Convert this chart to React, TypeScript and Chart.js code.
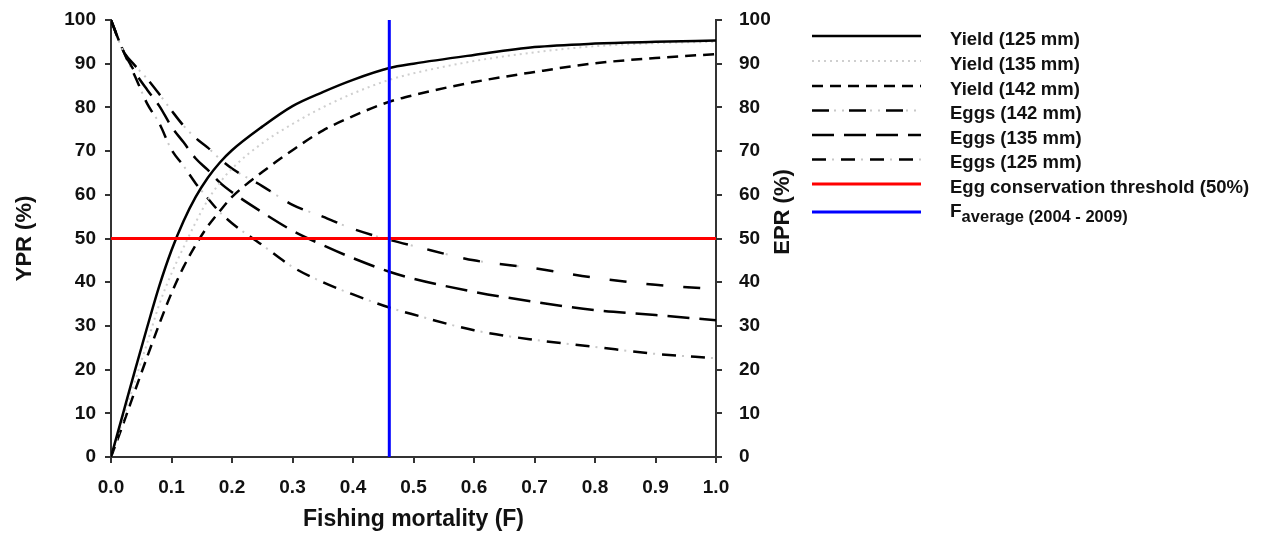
import React, { useEffect, useRef } from "react";
import { Chart, registerables } from "chart.js";

Chart.register(...registerables);

// ---- data ----
const fishingMortality = [0, 0.02, 0.04, 0.06, 0.08, 0.1, 0.12, 0.14, 0.16, 0.18, 0.2, 0.25, 0.3, 0.35, 0.4, 0.46, 0.5, 0.6, 0.7, 0.8, 0.9, 1.0];
const yield125 = [0, 10, 20, 29.8, 39.2, 47.3, 54, 59.5, 63.9, 67.4, 70.2, 75.6, 80.3, 83.5, 86.3, 89, 90, 92, 93.8, 94.6, 95, 95.3];
const yield135 = [0, 8.7, 17.5, 26.2, 35, 42, 48, 53.7, 58.8, 62.8, 66, 71.8, 76.2, 80, 83.2, 86.3, 87.8, 90.6, 92.6, 94, 94.7, 95];
const yield142 = [0, 7.5, 15.3, 23, 30.5, 37.5, 43.5, 48.5, 52.8, 56.3, 59.5, 65.2, 70.2, 74.7, 78, 81.3, 82.8, 85.8, 88.1, 90.1, 91.3, 92.2];
const eggs142 = [100, 93, 89.5, 86.5, 83, 79.3, 75.8, 73, 70.8, 68.2, 66, 62, 57.7, 55, 52.2, 49.7, 48.3, 45, 43.2, 41, 39.4, 38.4];
const eggs135 = [100, 93, 88, 84, 80.3, 75.6, 72, 68.3, 65.7, 62.8, 60.6, 56, 51.8, 48.5, 45.5, 42.4, 40.8, 37.8, 35.5, 33.6, 32.5, 31.3];
const eggs125 = [100, 93, 87, 80.8, 76.3, 70.3, 66.6, 62.6, 59.2, 56, 53.5, 48.5, 43.5, 40, 37.2, 34.2, 32.6, 29, 26.8, 25.2, 23.6, 22.6];
const thresholdF = [0, 1];
const thresholdEPR = [50, 50];
const fAverageF = [0.46, 0.46];
const fAverageRange = [0, 100];

const xAxisTitle = "Fishing mortality (F)";
const yAxisTitle = "YPR (%)";
const y2AxisTitle = "EPR (%)";
const legendLabels = [
  "Yield (125 mm)",
  "Yield (135 mm)",
  "Yield (142 mm)",
  "Eggs (142 mm)",
  "Eggs (135 mm)",
  "Eggs (125 mm)",
  "Egg conservation threshold (50%)",
];
const fAvgMain = "F";
const fAvgSub = "average (2004 - 2009)";

const FONT = "'Liberation Sans', Arial, Helvetica, sans-serif";
const TEXT = "#111";
const AXIS = "#333";

type Layer = { color: string; width: number; dash: number[] };

const pts = (xs: number[], ys: number[]) => xs.map((x, i) => ({ x, y: ys[i] }));

const styles: Layer[][] = [
  [{ color: "#000", width: 2.5, dash: [] }],
  [{ color: "#cfcfcf", width: 2, dash: [2, 4] }],
  [{ color: "#000", width: 2.5, dash: [11, 7] }],
  [
    { color: "#000", width: 2.5, dash: [17, 20] },
    { color: "#c8c8c8", width: 2, dash: [0, 22, 2, 6, 2, 4] },
  ],
  [{ color: "#000", width: 2.5, dash: [22, 10] }],
  [
    { color: "#000", width: 2.5, dash: [14, 15] },
    { color: "#c8c8c8", width: 2, dash: [0, 20, 2, 7] },
  ],
  [{ color: "#ff0000", width: 3, dash: [] }],
  [{ color: "#0000ff", width: 3, dash: [] }],
];

const seriesData = [
  { data: pts(fishingMortality, yield125), axis: "y" },
  { data: pts(fishingMortality, yield135), axis: "y" },
  { data: pts(fishingMortality, yield142), axis: "y" },
  { data: pts(fishingMortality, eggs142), axis: "y2" },
  { data: pts(fishingMortality, eggs135), axis: "y2" },
  { data: pts(fishingMortality, eggs125), axis: "y2" },
  { data: pts(thresholdF, thresholdEPR), axis: "y2" },
  { data: pts(fAverageF, fAverageRange), axis: "y" },
];

const legendPlugin = {
  id: "customLegend",
  afterDraw(chart: any) {
    const ctx = chart.ctx as CanvasRenderingContext2D;
    ctx.save();
    // right axis title, reading bottom-to-top
    ctx.fillStyle = TEXT;
    ctx.font = `bold 22px ${FONT}`;
    ctx.textAlign = "center";
    ctx.textBaseline = "alphabetic";
    ctx.save();
    ctx.translate(789, 212);
    ctx.rotate(-Math.PI / 2);
    ctx.fillText(y2AxisTitle, 0, 0);
    ctx.restore();

    const x0 = 812;
    const x1 = 921;
    const tx = 950;
    const rowY = [36, 61, 86, 110.5, 135, 159.5, 184, 212];
    styles.forEach((layers, i) => {
      const y = rowY[i];
      [...layers].reverse().forEach((l) => {
        ctx.beginPath();
        ctx.setLineDash(l.dash);
        ctx.lineWidth = l.width;
        ctx.strokeStyle = l.color;
        ctx.moveTo(x0, y);
        ctx.lineTo(x1, y);
        ctx.stroke();
      });
      ctx.setLineDash([]);
      ctx.textAlign = "left";
      ctx.textBaseline = "alphabetic";
      ctx.fillStyle = TEXT;
      if (i < legendLabels.length) {
        ctx.font = `bold 18.5px ${FONT}`;
        ctx.fillText(legendLabels[i], tx, y + 8.5);
      } else {
        ctx.font = `bold 19px ${FONT}`;
        ctx.fillText(fAvgMain, tx, 217);
        const w = ctx.measureText(fAvgMain).width;
        ctx.font = `bold 16.5px ${FONT}`;
        ctx.fillText(fAvgSub, tx + w, 222);
      }
    });
    ctx.restore();
  },
};

export default function App() {
  const ref = useRef<HTMLCanvasElement | null>(null);
  useEffect(() => {
    if (!ref.current) return;
    const datasets: any[] = [];
    // first dataset is drawn on top, so push in reverse visual order
    const order = [7, 6, 0, 1, 2, 3, 4, 5];
    order.forEach((si) => {
      styles[si].forEach((l, li) => {
        datasets.push({
          label: si < legendLabels.length ? legendLabels[si] + (li ? " " : "") : fAvgMain + fAvgSub,
          data: seriesData[si].data,
          yAxisID: seriesData[si].axis,
          borderColor: l.color,
          borderWidth: l.width,
          borderDash: l.dash,
          pointRadius: 0,
          fill: false,
          cubicInterpolationMode: "monotone",
          borderCapStyle: "butt",
        });
      });
    });
    const tickFont = { family: FONT, size: 19, weight: "bold" as const };
    const titleFont = { family: FONT, size: 23, weight: "bold" as const };
    const grid = { drawOnChartArea: false, drawTicks: true, tickLength: 6, color: AXIS, lineWidth: 2 };
    const border = { display: true, color: AXIS, width: 2 };
    const noPad = (s: any) => {
      s.paddingTop = 0;
      s.paddingBottom = 0;
      s.paddingLeft = 0;
      s.paddingRight = 0;
    };
    const chart = new Chart(ref.current, {
      type: "line",
      data: { datasets },
      plugins: [legendPlugin],
      options: {
        animation: false,
        responsive: false,
        maintainAspectRatio: false,
        layout: { padding: { top: 20, right: 490, bottom: 0, left: 0 } },
        plugins: { legend: { display: false }, tooltip: { enabled: false } },
        scales: {
          x: {
            type: "linear",
            min: 0,
            max: 1,
            ticks: {
              stepSize: 0.1,
              font: tickFont,
              color: TEXT,
              padding: 13,
              maxRotation: 0,
              autoSkip: false,
              callback: (v: any) => Number(v).toFixed(1),
            },
            grid,
            border,
            title: { display: true, text: xAxisTitle, font: titleFont, color: TEXT, padding: { top: 0, bottom: 6 } },
            afterFit: (s: any) => {
              noPad(s);
              s.height = 82;
            },
          },
          y: {
            type: "linear",
            position: "left",
            min: 0,
            max: 100,
            ticks: { stepSize: 10, font: tickFont, color: TEXT, padding: 9 },
            grid,
            border,
            title: { display: true, text: yAxisTitle, font: { ...titleFont, size: 22 }, color: TEXT, padding: { top: 12, bottom: 0 } },
            afterFit: (s: any) => {
              noPad(s);
              s.width = 111;
            },
          },
          y2: {
            type: "linear",
            position: "right",
            min: 0,
            max: 100,
            ticks: { stepSize: 10, font: tickFont, color: TEXT, padding: 17 },
            grid,
            border,
            title: { display: false },
            afterFit: (s: any) => {
              noPad(s);
              s.width = 60;
            },
          },
        },
      } as any,
    });
    return () => chart.destroy();
  }, []);
  return (
    <div style={{ position: "absolute", left: 0, top: 0, width: 1266, height: 539, background: "#fff" }}>
      <canvas ref={ref} width={1266} height={539} style={{ width: 1266, height: 539, display: "block" }} />
    </div>
  );
}
